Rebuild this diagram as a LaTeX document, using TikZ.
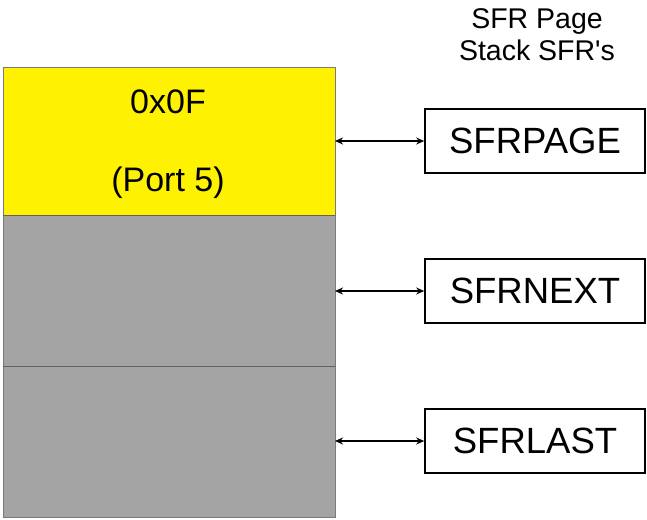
\documentclass[tikz,border=0pt]{standalone}
\usepackage{fontspec}
\setmainfont{Liberation Sans}[Ligatures=TeXOff]
\usetikzlibrary{arrows.meta}
\definecolor{memgray}{HTML}{A4A4A4}
\definecolor{edgegray}{HTML}{7A7A7A}
\begin{document}
\begin{tikzpicture}[x=1pt,y=-1pt,
  reg/.style={draw=black,line width=1.6pt,minimum width=220pt,minimum height=64pt,inner sep=0pt,font=\fontsize{36.5}{40}\selectfont},
  cell/.style={draw=edgegray,line width=1pt},
  link/.style={line width=1.4pt,{Stealth[length=8pt,width=7pt]}-{Stealth[length=8pt,width=7pt]}},
  lbl/.style={font=\fontsize{34}{40}\selectfont},
  hdrlbl/.style={font=\fontsize{28.5}{32}\selectfont}]
\useasboundingbox (0,0) rectangle (647,519);
% memory column
\fill[yellow] (3,67) rectangle (335,215);
\fill[memgray] (3,215) rectangle (335,517);
\draw[cell] (3,67) rectangle (335,517);
\draw[cell,draw=edgegray!80!black] (3,215) -- (335,215);
\draw[cell,draw=edgegray!80!black] (3,366) -- (335,366);
\node[lbl] (val) at (168,102) {0x0F};
\node[lbl] (port) at (168,183) {(Port 5)};
\coordinate (c1) at (335,141);
\coordinate (c2) at (335,291);
\coordinate (c3) at (335,441);
% registers
\node[reg] (page) at (535,141) {SFRPAGE};
\node[reg] (next) at (535,291) {SFRNEXT};
\node[reg] (last) at (535,441) {SFRLAST};
\node[hdrlbl,align=center,inner sep=0pt] (hdr) at (537,35) {SFR Page\\Stack SFR's};
\draw[link] (c1) -- (page.west);
\draw[link] (c2) -- (next.west);
\draw[link] (c3) -- (last.west);
\end{tikzpicture}
\end{document}
